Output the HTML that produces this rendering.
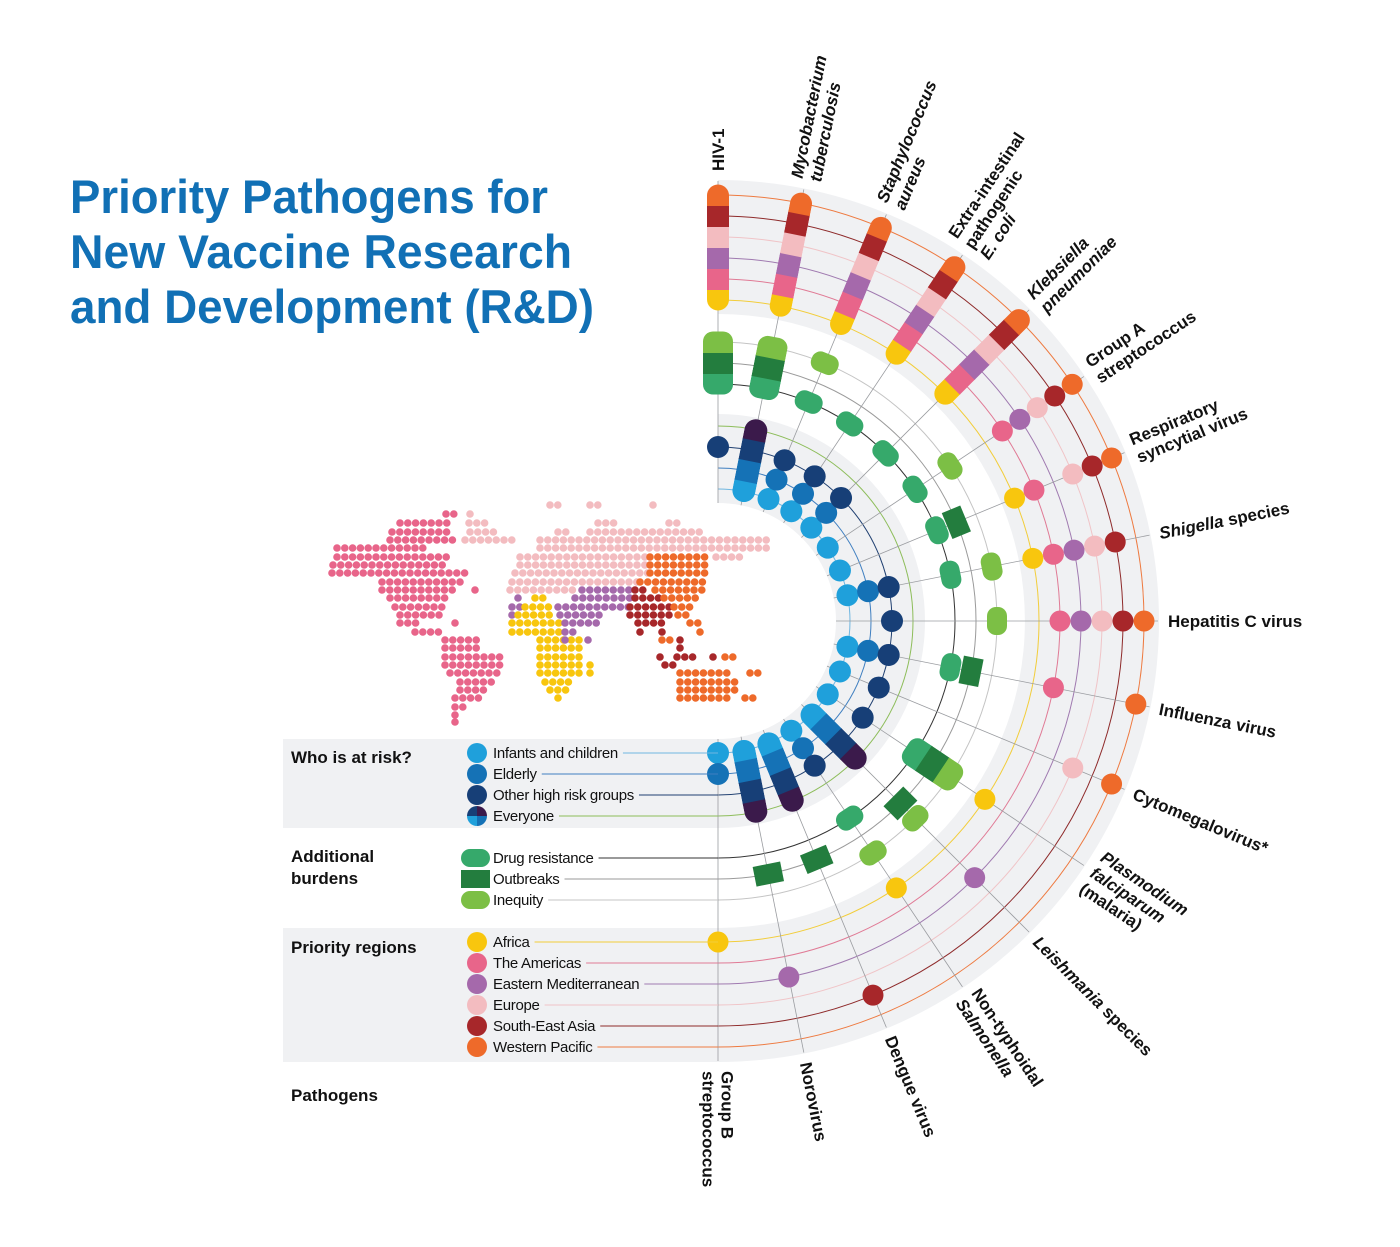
<!DOCTYPE html>
<html><head><meta charset="utf-8">
<style>
html,body{margin:0;padding:0;background:#fff;}
svg{display:block;}
.lab{font-family:"Liberation Sans",sans-serif;font-weight:bold;font-size:17px;fill:#111;}
.leg{font-family:"Liberation Sans Narrow","Liberation Sans",sans-serif;font-size:15px;fill:#111;letter-spacing:-0.3px;}
.legh{font-family:"Liberation Sans Narrow","Liberation Sans",sans-serif;font-weight:bold;font-size:17px;fill:#111;}
</style></head>
<body>
<svg id="chart" width="1400" height="1247" viewBox="0 0 1400 1247" xmlns="http://www.w3.org/2000/svg">
<g font-family="Liberation Sans, sans-serif" font-weight="bold" font-size="47" fill="#1170b5">
<text x="70" y="213" textLength="478" lengthAdjust="spacingAndGlyphs">Priority Pathogens for</text>
<text x="70" y="268" textLength="502" lengthAdjust="spacingAndGlyphs">New Vaccine Research</text>
<text x="70" y="323" textLength="524" lengthAdjust="spacingAndGlyphs">and Development (R&amp;D)</text>
</g>
<g id="bg"></g>
<g id="map"></g>
<g id="rings"></g>
<g id="spokes"></g>
<g id="marks"></g>
<g id="labels"></g>
<g id="legend"></g>
<defs id="defs"></defs>
</svg>
<script>
// ---- data ----
const pathogens = ["HIV-1","_Mycobacterium_|_tuberculosis_","_Staphylococcus_|_aureus_","Extra-intestinal|pathogenic|_E. coli_","_Klebsiella_|_pneumoniae_","Group A|streptococcus","Respiratory|syncytial virus","_Shigella_ species","Hepatitis C virus","Influenza virus","Cytomegalovirus*","_Plasmodium_|_falciparum_|(malaria)","_Leishmania_ species","Non-typhoidal|_Salmonella_","Dengue virus","Norovirus","Group B|streptococcus"];
// risk: 0 infants,1 elderly,2 other high risk,3 everyone
const riskData = [[2],[0,1,2,3],[0,1,2],[0,1,2],[0,1,2],[0],[0],[0,1,2],[2],[0,1,2],[0,2],[0,2],[0,1,2,3],[0,1,2],[0,1,2,3],[0,1,2,3],[0,1]];
// burdens: 0 drug resistance,1 outbreaks,2 inequity
const burdenData = [[0,1,2],[0,1,2],[0,2],[0],[0],[0,2],[0,1],[0,2],[2],[0,1],[],[0,1,2],[1,2],[0,2],[1],[1],[]];
// regions: 0 Africa,1 Americas,2 E Med,3 Europe,4 SE Asia,5 W Pacific
const regionData = [[0,1,2,3,4,5],[0,1,2,3,4,5],[0,1,2,3,4,5],[0,1,2,3,4,5],[0,1,2,3,4,5],[1,2,3,4,5],[0,1,3,4,5],[0,1,2,3,4],[1,2,3,4,5],[1,5],[3,5],[0],[2],[0],[4],[2],[0]];
const riskNames = ["Infants and children","Elderly","Other high risk groups","Everyone"];
const burdenNames = ["Drug resistance","Outbreaks","Inequity"];
const regionNames = ["Africa","The Americas","Eastern Mediterranean","Europe","South-East Asia","Western Pacific"];
// map dot rows: [y, region, x0, x1]
const mapRows = [
[505,"e",550,560],[505,"e",590,605],[505,"e",653,653],
[514,"a",446,461],[514,"e",470,475],
[523,"a",400,453],[523,"e",469,485],[523,"e",598,614],[523,"e",669,677],
[532,"a",392,453],[532,"e",470,500],[532,"e",558,570],[532,"e",590,700],
[540,"a",390,455],[540,"e",465,512],[540,"e",540,772],
[548,"a",337,430],[548,"e",540,770],
[557,"a",337,447],[557,"e",520,650],[557,"w",650,708],[557,"e",716,740],
[565,"a",333,447],[565,"e",520,650],[565,"w",650,708],
[573,"a",332,470],[573,"e",515,650],[573,"w",650,705],
[582,"a",382,462],[582,"e",512,640],[582,"w",640,705],
[590,"a",382,452],[590,"a",475,475],[590,"e",510,578],[590,"m",582,630],[590,"s",635,650],[590,"w",655,702],
[598,"a",390,450],[598,"m",518,518],[598,"f",535,550],[598,"m",575,630],[598,"s",635,660],[598,"w",664,700],
[607,"a",395,445],[607,"m",512,520],[607,"f",525,553],[607,"m",558,630],[607,"s",630,670],[607,"w",674,690],
[615,"a",400,440],[615,"m",512,512],[615,"f",518,555],[615,"m",560,600],[615,"s",630,672],[615,"w",678,688],
[623,"a",400,420],[623,"a",455,455],[623,"f",512,560],[623,"m",565,600],[623,"s",638,665],[623,"w",690,700],
[632,"a",415,440],[632,"f",512,560],[632,"m",565,578],[632,"s",640,640],[632,"s",662,662],[632,"w",700,700],
[640,"a",445,480],[640,"f",540,580],[640,"m",565,565],[640,"m",588,588],[640,"s",680,680],[640,"w",662,672],
[648,"a",445,480],[648,"f",540,585],[648,"s",680,680],
[657,"a",445,500],[657,"f",540,585],[657,"s",660,660],[657,"s",677,693],[657,"s",713,713],[657,"w",725,740],
[665,"a",445,500],[665,"f",540,580],[665,"f",590,590],[665,"s",665,677],
[673,"a",450,500],[673,"f",540,580],[673,"f",590,590],[673,"w",680,730],[673,"w",750,765],
[682,"a",460,493],[682,"f",545,575],[682,"w",680,735],
[690,"a",460,490],[690,"f",550,570],[690,"w",680,735],
[698,"a",455,480],[698,"f",558,558],[698,"w",680,730],[698,"w",745,755],
[707,"a",455,470],[715,"a",455,455],[722,"a",455,455]
];
// ---- styles ----
const cx = 718, cy = 621;
const riskR = [132,153,174,195], burdenR = [237,258,279], regionR = [321,342,363,384,405,426];
const riskCol = ["#1fa0db","#1572b6","#173f77","#3b1a4b"];
const riskLine = ["#6fb6e0","#3f7fc0","#1f3f70","#8dbd5a"];
const burdenCol = ["#36a96b","#237d3e","#7cbf45"];
const burdenLine = ["#333","#9a9a9a","#c4c4c4"];
const regionCol = ["#f8c60e","#e8658a","#a569ab","#f3bcc0","#a7272a","#ee6a2a"];
const regionLine = ["#f2cd3a","#e07a95","#a07ab0","#f0c4c7","#8e2a2a","#ee7a40"];
const regCode = {f:0,a:1,m:2,e:3,s:4,w:5};
const NS = "http://www.w3.org/2000/svg";
function mk(tag, attrs, parent){const e=document.createElementNS(NS,tag);for(const k in attrs)e.setAttribute(k,attrs[k]);parent.appendChild(e);return e;}
const N = pathogens.length;
function ang(i){return -90 + i*180/(N-1);}
function pt(r,a){const t=a*Math.PI/180;return [cx+r*Math.cos(t), cy+r*Math.sin(t)];}

// background bands
const bg = document.getElementById('bg');
function band(r0,r1,y0,y1,name){
  const p = mk('path',{d:`M${cx},${cy-r1} A${r1},${r1} 0 0 1 ${cx},${cy+r1} L${cx},${cy+r0} A${r0},${r0} 0 0 0 ${cx},${cy-r0} Z`,fill:'#f0f1f3'},bg);
  
  
  const rc = mk('rect',{x:283,y:y0,width:cx-283+1,height:y1-y0,fill:'#f0f1f3'},bg);
  
  
}
band(118,207,cy+118,cy+207,'risk');
band(307,441,cy+307,cy+441,'regions');

// map
const map = document.getElementById('map');
const mapColors = regionCol;
mapRows.forEach(row=>{
  const [y,c,x0,x1]=row;
  for(let x=x0;x<=x1+0.5;x+=7.8){
    const d = mk('circle',{cx:x.toFixed(1),cy:y,r:3.8,fill:mapColors[regCode[c]]},map);
    
    
  }
});

const legend = document.getElementById('legend');
const riskY = riskR.map(r=>cy+r), burdenY = burdenR.map(r=>cy+r), regionY = regionR.map(r=>cy+r);

// ring arcs
const rings = document.getElementById('rings');
function ringGroup(radii, cols, names, widths){
  radii.forEach((r,k)=>{
    const p = mk('path',{d:`M${cx},${cy-r} A${r},${r} 0 0 1 ${cx},${cy+r}`,fill:'none',stroke:cols[k],'stroke-width':widths||1},rings);
    
    
  });
}
ringGroup(riskR,riskLine,riskNames);
ringGroup(burdenR,burdenLine,burdenNames);
ringGroup(regionR,regionLine,regionNames);

// spokes
const spokes = document.getElementById('spokes');
for(let i=0;i<N;i++){
  const a=ang(i); const [x0,y0]=pt(118,a); const [x1,y1]=pt(440,a);
  const l = mk('line',{x1:x0,y1:y0,x2:x1,y2:y1,stroke:'#9a9ca0','stroke-width':0.8},spokes);
  
  
}

// markers
const marks = document.getElementById('marks');
const defs = document.getElementById('defs');
let clipId = 0;
function drawGroup(i, items, radii, cols, total, wPill, rxPill, kind){
  if(!items.length) return;
  const a = ang(i);
  const g = mk('g',{transform:`rotate(${a} ${cx} ${cy})`},marks);
  
  
  const s = radii[1]-radii[0];
  if(items.length===total){
    const x0 = cx+radii[0]-s/2, x1 = cx+radii[radii.length-1]+s/2;
    const id='cp'+(clipId++);
    const cp = mk('clipPath',{id:id},defs);
    mk('rect',{x:x0,y:cy-wPill/2,width:x1-x0,height:wPill,rx:rxPill},cp);
    const gg = mk('g',{'clip-path':`url(#${id})`},g);
    items.forEach(k=>{
      const r = mk('rect',{x:cx+radii[k]-s/2-0.5,y:cy-wPill/2,width:s+1,height:wPill,fill:cols[k]},gg);
      
      
    });
  } else {
    items.forEach(k=>{
      let e;
      if(kind==='burden'){
        const rw=20, tw=28;
        e = mk('rect',{x:cx+radii[k]-rw/2,y:cy-tw/2,width:rw,height:tw,rx:k===1?0:9,fill:cols[k]},g);
      } else {
        e = mk('circle',{cx:cx+radii[k],cy:cy,r:kind==='risk'?11:10.5,fill:cols[k]},g);
      }
      
      
    });
  }
}
for(let i=0;i<N;i++){
  drawGroup(i, riskData[i], riskR, riskCol, 4, 23, 11.5, 'risk');
  drawGroup(i, burdenData[i], burdenR, burdenCol, 3, 30, 10, 'burden');
  drawGroup(i, regionData[i], regionR, regionCol, 6, 22, 11, 'region');
}

// pathogen labels
const labels = document.getElementById('labels');
for(let i=0;i<N;i++){
  const a = ang(i); const lines = pathogens[i].split('|');
  const t = mk('text',{x:cx+450,y:cy,transform:`rotate(${a} ${cx} ${cy})`,class:'lab'},labels);
  
  
  const lh=19;
  lines.forEach((ln,j)=>{
    const dy = j===0 ? (6 - (lines.length-1)*lh/2) : lh;
    const parts = ln.split('_');
    parts.forEach((p,q)=>{
      if(!p) return;
      const attrs = {};
      if(q===0 || (q===1 && parts[0]==='')){ attrs.x = cx+450; attrs.dy = dy; }
      if(q%2===1) attrs['font-style']='italic';
      const ts = mk('tspan',attrs,t);
      ts.textContent = p;
    });
  });
}

// legend
function legendHead(txt,y,name){
  const lines=txt.split('|');
  lines.forEach((l,j)=>{
    const t=mk('text',{x:291,y:y+j*22,class:'legh'},legend);
    t.textContent=l;
    
    
  });
}
legendHead('Who is at risk?',763,'risk-legend-title');
legendHead('Additional|burdens',862,'burden-legend-title');
legendHead('Priority regions',953,'regions-legend-title');
legendHead('Pathogens',1101,'pathogens-legend-title');

function legendItem(y, label, lineCol, iconFn, name){
  iconFn(y);
  const t = mk('text',{x:493,y:y+5,class:'leg'},legend);
  t.textContent = label;
  
  
  const w = t.getComputedTextLength ? t.getComputedTextLength() : label.length*7;
  const ln = mk('line',{x1:493+w+5,y1:y,x2:cx,y2:y,stroke:lineCol,'stroke-width':1},legend);
  
  
}
riskNames.forEach((n,k)=>{
  legendItem(riskY[k], n, riskLine[k], y=>{
    if(k<3){
      const c=mk('circle',{cx:477,cy:y,r:10,fill:riskCol[k]},legend);
      
      
    } else {
      const g=mk('g',{},legend);
      
      
      const q=[[riskCol[2],`M477,${y} L467,${y} A10,10 0 0 1 477,${y-10} Z`],[riskCol[3],`M477,${y} L477,${y-10} A10,10 0 0 1 487,${y} Z`],[riskCol[1],`M477,${y} L487,${y} A10,10 0 0 1 477,${y+10} Z`],[riskCol[0],`M477,${y} L477,${y+10} A10,10 0 0 1 467,${y} Z`]];
      q.forEach(([c,d])=>mk('path',{d:d,fill:c},g));
    }
  }, n.toLowerCase().replace(/[^a-z]+/g,'-'));
});
burdenNames.forEach((n,k)=>{
  legendItem(burdenY[k], n, burdenLine[k], y=>{
    const r=mk('rect',{x:461,y:y-9,width:29,height:18,rx:k===1?0:9,fill:burdenCol[k]},legend);
    
    
  }, n.toLowerCase().replace(/[^a-z]+/g,'-'));
});
regionNames.forEach((n,k)=>{
  legendItem(regionY[k], n, regionLine[k], y=>{
    const c=mk('circle',{cx:477,cy:y,r:10,fill:regionCol[k]},legend);
    
    
  }, n.toLowerCase().replace(/[^a-z]+/g,'-'));
});
</script>
</body></html>
